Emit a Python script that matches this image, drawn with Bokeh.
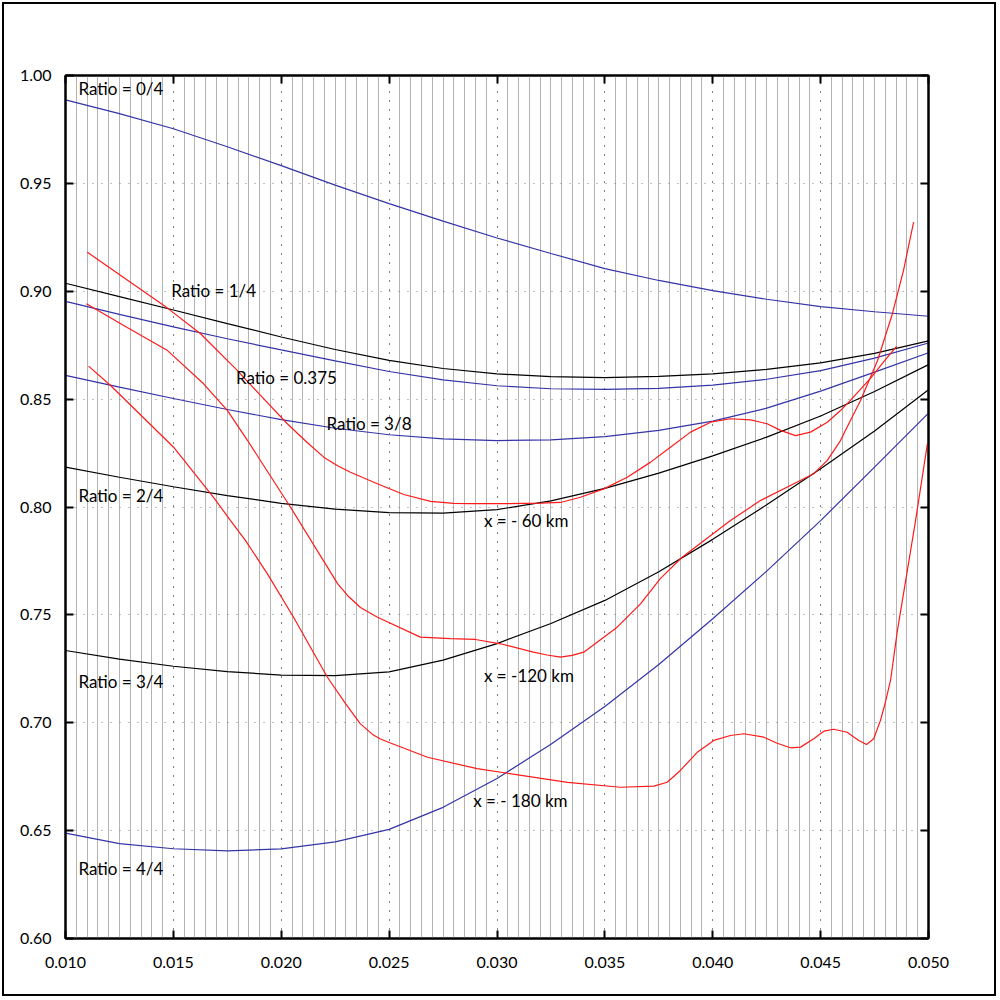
from bokeh.plotting import figure
from bokeh.models import (FixedTicker, LinearAxis, NumeralTickFormatter, Range1d,
                          CustomJSTickFormatter)
from bokeh.core.properties import value
from bokeh.embed import file_html
from bokeh.resources import INLINE

# ---------------- data ----------------
x_ticks = [0.010, 0.015, 0.020, 0.025, 0.030, 0.035, 0.040, 0.045, 0.050]
x_tick_labels = ["0.010", "0.015", "0.020", "0.025", "0.030", "0.035", "0.040", "0.045", "0.050"]
y_ticks = [0.60, 0.65, 0.70, 0.75, 0.80, 0.85, 0.90, 0.95, 1.00]
y_tick_labels = ["0.60", "0.65", "0.70", "0.75", "0.80", "0.85", "0.90", "0.95", "1.00"]

ratio_x = [0.0100, 0.0125, 0.0150, 0.0175, 0.0200, 0.0225, 0.0250, 0.0275, 0.0300,
           0.0325, 0.0350, 0.0375, 0.0400, 0.0425, 0.0450, 0.0475, 0.0500]
ratio_0_4 = [0.9887, 0.9823, 0.9753, 0.9670, 0.9582, 0.9492, 0.9406, 0.9325, 0.9247,
             0.9175, 0.9105, 0.9050, 0.9003, 0.8963, 0.8929, 0.8905, 0.8884]
ratio_1_4 = [0.9037, 0.8975, 0.8913, 0.8850, 0.8788, 0.8730, 0.8680, 0.8642, 0.8617,
             0.8604, 0.8600, 0.8605, 0.8617, 0.8638, 0.8668, 0.8712, 0.8770]
ratio_0375 = [0.8953, 0.8893, 0.8835, 0.8780, 0.8728, 0.8677, 0.8628, 0.8589, 0.8562,
              0.8548, 0.8545, 0.8550, 0.8565, 0.8592, 0.8632, 0.8690, 0.8760]
ratio_3_8 = [0.8610, 0.8556, 0.8503, 0.8452, 0.8405, 0.8365, 0.8335, 0.8316, 0.8308,
             0.8311, 0.8326, 0.8355, 0.8398, 0.8458, 0.8537, 0.8625, 0.8715]
ratio_2_4 = [0.8185, 0.8138, 0.8094, 0.8053, 0.8017, 0.7990, 0.7974, 0.7972, 0.7988,
             0.8028, 0.8086, 0.8157, 0.8237, 0.8324, 0.8422, 0.8535, 0.8660]
ratio_3_4 = [0.7335, 0.7295, 0.7262, 0.7237, 0.7221, 0.7218, 0.7236, 0.7290, 0.7367,
             0.7460, 0.7567, 0.7700, 0.7850, 0.8010, 0.8177, 0.8352, 0.8543]
ratio_4_4 = [0.6488, 0.6440, 0.6416, 0.6406, 0.6415, 0.6448, 0.6506, 0.6608, 0.6742,
             0.6900, 0.7075, 0.7270, 0.7482, 0.7703, 0.7937, 0.8185, 0.8435]

red60_x = [0.01101, 0.01286, 0.01471, 0.01626, 0.01796, 0.01904, 0.02028, 0.02119, 0.02197,
           0.02259, 0.02321, 0.02445, 0.02568, 0.02692, 0.02800, 0.02877, 0.03049, 0.03202,
           0.03294, 0.03387, 0.03495, 0.03604, 0.03712, 0.03804, 0.03897, 0.03990, 0.04082,
           0.04175, 0.04252, 0.04314, 0.04384, 0.04453, 0.04531, 0.04592, 0.04638, 0.04731,
           0.04791, 0.04852]
red60_y = [0.9181, 0.9052, 0.8923, 0.8803, 0.8633, 0.8517, 0.8386, 0.8300, 0.8231,
           0.8192, 0.8161, 0.8108, 0.8058, 0.8026, 0.8017, 0.8016, 0.8016, 0.8018,
           0.8021, 0.8045, 0.8084, 0.8138, 0.8208, 0.8277, 0.8347, 0.8393, 0.8409,
           0.8404, 0.8386, 0.8355, 0.8331, 0.8347, 0.8393, 0.8447, 0.8494, 0.8596,
           0.8671, 0.8744]

red120_x = [0.01097, 0.01286, 0.01473, 0.01640, 0.01751, 0.01844, 0.02043, 0.02261, 0.02307,
            0.02367, 0.02446, 0.02645, 0.02784, 0.02900, 0.03016, 0.03169, 0.03232, 0.03294,
            0.03348, 0.03402, 0.03557, 0.03665, 0.03758, 0.03858, 0.04082, 0.04221, 0.04376,
            0.04468, 0.04531, 0.04592, 0.04638, 0.04685, 0.04764, 0.04833, 0.04884, 0.04931]
red120_y = [0.8942, 0.8832, 0.8725, 0.8571, 0.8447, 0.8308, 0.7999, 0.7645, 0.7590,
            0.7534, 0.7489, 0.7397, 0.7390, 0.7386, 0.7366, 0.7327, 0.7314, 0.7304,
            0.7312, 0.7327, 0.7443, 0.7551, 0.7669, 0.7767, 0.7937, 0.8030, 0.8108,
            0.8154, 0.8216, 0.8308, 0.8401, 0.8494, 0.8679, 0.8897, 0.9096, 0.9320]

red180_x = [0.01107, 0.01209, 0.01501, 0.01686, 0.01765, 0.01834, 0.01936, 0.02057, 0.02214,
            0.02298, 0.02367, 0.02423, 0.02460, 0.02506, 0.02678, 0.02908, 0.03049, 0.03327,
            0.03572, 0.03727, 0.03789, 0.03850, 0.03928, 0.04005, 0.04082, 0.04144, 0.04237,
            0.04299, 0.04360, 0.04407, 0.04468, 0.04515, 0.04561, 0.04623, 0.04677, 0.04713,
            0.04746, 0.04777, 0.04800, 0.04824, 0.04856, 0.04902, 0.04940, 0.04995]
red180_y = [0.8653, 0.8563, 0.8277, 0.8045, 0.7937, 0.7845, 0.7690, 0.7489, 0.7211,
            0.7089, 0.6995, 0.6946, 0.6925, 0.6906, 0.6840, 0.6787, 0.6766, 0.6724,
            0.6701, 0.6706, 0.6724, 0.6779, 0.6863, 0.6918, 0.6941, 0.6949, 0.6933,
            0.6905, 0.6884, 0.6887, 0.6926, 0.6961, 0.6970, 0.6956, 0.6918, 0.6899,
            0.6926, 0.7010, 0.7094, 0.7196, 0.7428, 0.7706, 0.7937, 0.8294]

label_text = ["Ratio = 0/4", "Ratio = 1/4", "Ratio = 0.375", "Ratio = 3/8", "Ratio = 2/4",
              "x = - 60 km", "Ratio = 3/4", "x = -120 km", "x = - 180 km", "Ratio = 4/4"]
label_x = [0.0106, 0.0149, 0.0179, 0.0221, 0.0106, 0.0294, 0.0106, 0.0294, 0.0289, 0.0106]
label_y = [0.9940, 0.9003, 0.8599, 0.8388, 0.8053, 0.7937, 0.7191, 0.7219, 0.6640, 0.6323]

# ---------------- styling ----------------
FONT = "Lato"
BLUE = "#3434a8"
RED = "#ff1a1a"

x_minor = [round(0.010 + i * 0.0005, 4) for i in range(81) if i % 10 != 0]

p = figure(frame_width=863, frame_height=863,
           x_range=Range1d(0.010, 0.050), y_range=Range1d(0.60, 1.00),
           output_backend="svg", toolbar_location=None,
           min_border_left=65, min_border_top=75, min_border_right=70, min_border_bottom=60)
p.background_fill_color = "white"
p.border_fill_color = None
p.styles = {"outline": "2px solid black", "outline-offset": "-4px"}
p.outline_line_color = "black"
p.outline_line_width = 2

bottom_ax = p.below[0]
left_ax = p.left[0]

xt = FixedTicker(ticks=x_ticks, minor_ticks=x_minor)
yt = FixedTicker(ticks=y_ticks, minor_ticks=[])

bottom_ax.ticker = xt
bottom_ax.formatter = NumeralTickFormatter(format="0.000")
bottom_ax.major_label_overrides = {t: s for t, s in zip(x_ticks, x_tick_labels)}
left_ax.ticker = yt
left_ax.formatter = NumeralTickFormatter(format="0.00")
left_ax.major_label_overrides = {t: s for t, s in zip(y_ticks, y_tick_labels)}

blank = CustomJSTickFormatter(code="return '';")
top_ax = LinearAxis(ticker=xt, formatter=blank)
right_ax = LinearAxis(ticker=yt, formatter=blank)
p.add_layout(top_ax, "above")
p.add_layout(right_ax, "right")

for ax in [bottom_ax, left_ax, top_ax, right_ax]:
    ax.axis_line_color = "black"
    ax.axis_line_width = 2
    ax.major_tick_in = 8
    ax.major_tick_out = 0
    ax.major_tick_line_width = 2
    ax.major_tick_line_color = "black"
    ax.minor_tick_line_color = None
    ax.major_label_text_font = FONT
    ax.major_label_text_color = "black"
    ax.major_label_text_font_size = "16px"

bottom_ax.major_label_standoff = 14
left_ax.major_label_standoff = 14

p.xgrid.ticker = xt
p.xgrid.grid_line_color = "black"
p.xgrid.grid_line_dash = "1 8"
p.xgrid.grid_line_width = 1
p.xgrid.minor_grid_line_color = "#b4b4b4"
p.xgrid.minor_grid_line_width = 1
p.ygrid.ticker = yt
p.ygrid.grid_line_color = "#808080"
p.ygrid.grid_line_dash = "1 8"
p.ygrid.grid_line_width = 1

# ---------------- curves ----------------
lw = 1.2
p.line(ratio_x, ratio_0_4, line_color=BLUE, line_width=lw)
p.line(ratio_x, ratio_1_4, line_color="black", line_width=lw)
p.line(ratio_x, ratio_0375, line_color=BLUE, line_width=lw)
p.line(ratio_x, ratio_3_8, line_color=BLUE, line_width=lw)
p.line(ratio_x, ratio_2_4, line_color="black", line_width=lw)
p.line(ratio_x, ratio_3_4, line_color="black", line_width=lw)
p.line(ratio_x, ratio_4_4, line_color=BLUE, line_width=lw)

p.line(red60_x, red60_y, line_color=RED, line_width=lw)
p.line(red120_x, red120_y, line_color=RED, line_width=lw)
p.line(red180_x, red180_y, line_color=RED, line_width=lw)

p.text(x=label_x, y=label_y, text=label_text, text_font=value(FONT),
       text_font_size="17px", text_color="black",
       text_align="left", text_baseline="middle")

open("out.html", "w").write(file_html(p, INLINE))
